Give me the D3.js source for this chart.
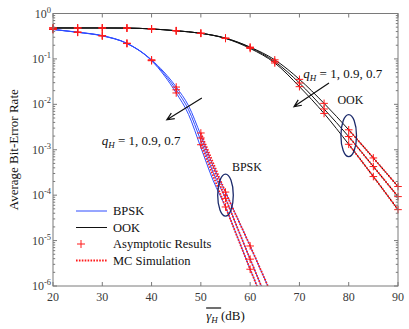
<!DOCTYPE html>
<meta charset="utf-8">
<html>
<head>
<script src="https://d3js.org/d3.v7.min.js"></script>
<style>
  body { margin: 0; background: #fff; }
  text { font-family: "Liberation Serif", "DejaVu Serif", serif; }
</style>
</head>
<body>
<script>
const width = 409, height = 329;
const margin = {left: 53, right: 11, top: 13.5, bottom: 43};

// axis ticks
const xTicks = [20, 30, 40, 50, 60, 70, 80, 90];
const yDecades = [0, -1, -2, -3, -4, -5, -6];

// BPSK exact curves (blue), q_H = 1, 0.9, 0.7
const bpskDb = [20, 25, 30, 35, 40, 45, 47.5, 50, 52.5, 55, 57.5, 60, 62.5, 65];
const bpskQ1  = [0.445, 0.385, 0.321, 0.218, 0.0912, 0.0178, 6.0e-3, 1.12e-3, 2.1e-4, 5.5e-5, 1.14e-5, 2.34e-6, 5.1e-7, 1.12e-7];
const bpskQ09 = [0.446, 0.386, 0.324, 0.220, 0.0933, 0.0209, 7.6e-3, 1.58e-3, 3.16e-4, 8.5e-5, 1.82e-5, 3.9e-6, 8.7e-7, 1.95e-7];
const bpskQ07 = [0.447, 0.389, 0.326, 0.221, 0.0955, 0.0240, 9.3e-3, 2.09e-3, 4.4e-4, 1.17e-4, 3.0e-5, 7.6e-6, 1.84e-6, 4.5e-7];

// BPSK MC simulation (red dotted)
const bpskMcDb = [50, 55, 60, 65];
const bpskMcQ1  = [1.29e-3, 5.5e-5, 2.34e-6, 1.12e-7];
const bpskMcQ09 = [1.82e-3, 8.5e-5, 3.9e-6, 1.95e-7];
const bpskMcQ07 = [2.34e-3, 1.17e-4, 7.6e-6, 4.5e-7];

// BPSK asymptotic markers
const bpskMarkDb = [20, 25, 30, 35, 40, 45, 50, 55, 60];
const bpskMarkQ1  = [0.445, 0.385, 0.321, 0.218, 0.0912, 0.0178, 1.29e-3, 5.5e-5, 2.34e-6];
const bpskMarkQ09 = [0.446, 0.386, 0.324, 0.220, 0.0933, 0.0209, 1.82e-3, 8.5e-5, 3.9e-6];
const bpskMarkQ07 = [0.447, 0.389, 0.326, 0.221, 0.0955, 0.0240, 2.34e-3, 1.17e-4, 7.6e-6];

// OOK exact curves (black), markers on same points
const ookDb = [20, 25, 30, 35, 40, 45, 50, 55, 60, 65, 70, 75, 80, 85, 90];
const ookQ1  = [0.48, 0.48, 0.48, 0.478, 0.457, 0.417, 0.367, 0.282, 0.170, 0.0813, 0.0245, 6.3e-3, 1.32e-3, 2.57e-4, 4.8e-5];
const ookQ09 = [0.48, 0.48, 0.48, 0.478, 0.457, 0.417, 0.367, 0.285, 0.178, 0.0871, 0.0295, 7.9e-3, 1.95e-3, 4.27e-4, 9.3e-5];
const ookQ07 = [0.48, 0.48, 0.48, 0.478, 0.457, 0.417, 0.367, 0.288, 0.182, 0.0955, 0.0355, 0.0105, 2.75e-3, 6.6e-4, 1.55e-4];

// OOK MC simulation (red dotted)
const ookMcDb = [80, 85, 90];
const ookMcQ1  = [1.32e-3, 2.57e-4, 4.8e-5];
const ookMcQ09 = [1.95e-3, 4.27e-4, 9.3e-5];
const ookMcQ07 = [2.75e-3, 6.6e-4, 1.55e-4];

const legendItems = ["BPSK", "OOK", "Asymptotic Results", "MC Simulation"];

const BLUE = "#2f4cff", RED = "#ff1a1a", NAVY = "#1b2a6b", AXIS = "#7a7a7a", TXT = "#3a3a3a";

const x = d3.scaleLinear().domain([20, 90]).range([margin.left, width - margin.right]);
const y = d3.scaleLog().domain([1e-6, 1]).range([height - margin.bottom, margin.top]);

const svg = d3.select("body").append("svg")
  .attr("width", width).attr("height", height);

svg.append("defs").append("clipPath").attr("id", "plot")
  .append("rect")
    .attr("x", x(20)).attr("y", y(1))
    .attr("width", x(90) - x(20)).attr("height", y(1e-6) - y(1));

const zip = (xs, ys) => xs.map((d, i) => ({db: d, ber: ys[i]}));
const line = d3.line().x(d => x(d.db)).y(d => y(d.ber)).curve(d3.curveMonotoneX);

const g = svg.append("g").attr("clip-path", "url(#plot)");

// exact curves
[bpskQ1, bpskQ09, bpskQ07].forEach(s =>
  g.append("path").attr("d", line(zip(bpskDb, s)))
    .attr("fill", "none").attr("stroke", BLUE).attr("stroke-width", 1));
[ookQ1, ookQ09, ookQ07].forEach(s =>
  g.append("path").attr("d", line(zip(ookDb, s)))
    .attr("fill", "none").attr("stroke", "#111").attr("stroke-width", 1));

// MC simulation
[[bpskMcDb, bpskMcQ1], [bpskMcDb, bpskMcQ09], [bpskMcDb, bpskMcQ07],
 [ookMcDb, ookMcQ1], [ookMcDb, ookMcQ09], [ookMcDb, ookMcQ07]].forEach(([xs, s]) =>
  g.append("path").attr("d", line(zip(xs, s)))
    .attr("fill", "none").attr("stroke", RED).attr("stroke-width", 1.8)
    .attr("stroke-dasharray", "1.6,1.3"));

// asymptotic markers
const plus = (cx, cy, r) => `M${cx - r},${cy}H${cx + r}M${cx},${cy - r}V${cy + r}`;
const marks = [];
[bpskMarkQ1, bpskMarkQ09, bpskMarkQ07].forEach(s => marks.push(...zip(bpskMarkDb, s)));
[ookQ1, ookQ09, ookQ07].forEach(s => marks.push(...zip(ookDb, s)));
svg.append("g").selectAll("path")
  .data(marks.filter(d => d.ber >= 1e-6))
  .join("path")
    .attr("d", d => plus(x(d.db), y(d.ber), 3.8))
    .attr("stroke", RED).attr("stroke-width", 1).attr("fill", "none");

// frame and ticks
const frame = svg.append("g").attr("stroke", AXIS).attr("stroke-width", 1).attr("fill", "none");
frame.append("rect")
  .attr("x", x(20)).attr("y", y(1))
  .attr("width", x(90) - x(20)).attr("height", y(1e-6) - y(1));
xTicks.forEach(t => {
  frame.append("path").attr("d", `M${x(t)},${y(1e-6)}v-4M${x(t)},${y(1)}v4`);
});
yDecades.forEach(p => {
  const v = Math.pow(10, p);
  frame.append("path").attr("d", `M${x(20)},${y(v)}h4M${x(90)},${y(v)}h-4`);
  if (p > -6) {
    for (let k = 2; k <= 9; k++) {
      const m = k * Math.pow(10, p - 1);
      frame.append("path").attr("d", `M${x(20)},${y(m)}h2.2M${x(90)},${y(m)}h-2.2`);
    }
  }
});

// tick labels
svg.append("g").selectAll("text").data(xTicks).join("text")
  .attr("x", d => x(d)).attr("y", y(1e-6) + 15)
  .attr("text-anchor", "middle").attr("font-size", 12).attr("fill", TXT)
  .text(d => d);

const yl = svg.append("g").selectAll("text").data(yDecades).join("text")
  .attr("x", x(20) - 2).attr("y", d => y(Math.pow(10, d)) + 4)
  .attr("text-anchor", "end").attr("font-size", 12).attr("fill", TXT);
yl.append("tspan").text("10");
yl.append("tspan").attr("dy", -5).attr("font-size", 8.5).text(d => d === 0 ? "0" : "-" + (-d));

// axis titles
svg.append("text")
  .attr("transform", `translate(18,${(y(1) + y(1e-6)) / 2}) rotate(-90)`)
  .attr("text-anchor", "middle").attr("font-size", 13).attr("fill", "#111")
  .text("Average Bit-Error Rate");

const xt = svg.append("text").attr("y", 320).attr("font-size", 13).attr("fill", "#111");
xt.append("tspan").attr("font-style", "italic").text("γ");
xt.append("tspan").attr("font-style", "italic").attr("font-size", 9).attr("dy", 3).text("H");
xt.append("tspan").attr("dy", -3).text(" (dB)");
const xtw = xt.node().getComputedTextLength();
const x0 = (x(20) + x(90)) / 2 - xtw / 2;
xt.attr("x", x0);
svg.append("line")
  .attr("x1", x0).attr("x2", x0 + 15)
  .attr("y1", 308).attr("y2", 308)
  .attr("stroke", "#111").attr("stroke-width", 1.2);

// annotations: arrows, q labels, ellipses
const arrow = (x1, y1, x2, y2) => {
  const a = Math.atan2(y2 - y1, x2 - x1), L = 8, w = 0.42;
  const p = (s) => `${x2 - L * Math.cos(a + s)},${y2 - L * Math.sin(a + s)}`;
  svg.append("path")
    .attr("d", `M${x1},${y1}L${x2},${y2}M${p(w)}L${x2},${y2}L${p(-w)}`)
    .attr("fill", "none").attr("stroke", "#111").attr("stroke-width", 1.2);
};
arrow(x(50.2), y(Math.pow(10, -1.86)), x(43.1), y(Math.pow(10, -2.34)));
arrow(x(76.0), y(Math.pow(10, -1.53)), x(68.9), y(Math.pow(10, -2.05)));

const qLabel = (db, ber) => {
  const t = svg.append("text").attr("x", x(db)).attr("y", y(ber))
    .attr("font-size", 13).attr("fill", "#111");
  t.append("tspan").attr("font-style", "italic").text("q");
  t.append("tspan").attr("font-style", "italic").attr("font-size", 9).attr("dy", 3).text("H");
  t.append("tspan").attr("dy", -3).text(" = 1, 0.9, 0.7");
};
qLabel(29.9, Math.pow(10, -2.89));
qLabel(70.8, Math.pow(10, -1.42));

svg.append("text").attr("x", x(56.3)).attr("y", y(Math.pow(10, -3.46)))
  .attr("font-size", 12).attr("fill", "#111").text("BPSK");
svg.append("text").attr("x", x(77.7)).attr("y", y(Math.pow(10, -1.99)))
  .attr("font-size", 12).attr("fill", "#111").text("OOK");

[[55, -4.0], [80, -2.69]].forEach(([db, lg]) =>
  svg.append("ellipse")
    .attr("cx", x(db)).attr("cy", y(Math.pow(10, lg)))
    .attr("rx", 7.8).attr("ry", 21)
    .attr("fill", "none").attr("stroke", NAVY).attr("stroke-width", 1.3));

// legend
const lg = svg.append("g").attr("transform", "translate(76,211)");
legendItems.forEach((name, i) => {
  const row = lg.append("g").attr("transform", `translate(0,${i * 16.5})`);
  if (i === 0) row.append("line").attr("x2", 31).attr("stroke", BLUE).attr("stroke-width", 1);
  if (i === 1) row.append("line").attr("x2", 31).attr("stroke", "#111").attr("stroke-width", 1);
  if (i === 2) row.append("path").attr("d", plus(5, 0, 4)).attr("stroke", RED).attr("stroke-width", 1);
  if (i === 3) row.append("line").attr("x2", 31).attr("stroke", RED).attr("stroke-width", 1.8)
    .attr("stroke-dasharray", "1.6,1.3");
  row.append("text").attr("x", 37).attr("y", 4.3)
    .attr("font-size", 12.5).attr("fill", "#111").text(name);
});
</script>
</body>
</html>
